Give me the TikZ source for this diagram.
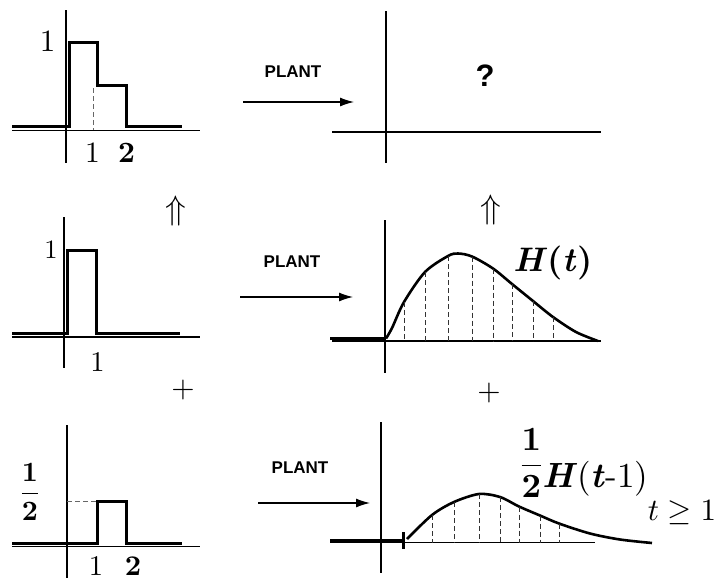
\documentclass[tikz,border=0pt]{standalone}
\usepackage{amsmath,amssymb}
\usepackage{graphicx}
\usepackage[no-math]{fontspec}
\newfontfamily\plantfont{Liberation Sans}
\usetikzlibrary{arrows.meta}
\newcommand{\magnify}[2]{\scalebox{#1}{\fontsize{10}{12}\selectfont #2}}
\newcommand{\bolditl}[1]{{\bfseries\itshape #1\/}}
\newcommand{\boldup}[1]{{\bfseries #1}}

\begin{document}
\begin{tikzpicture}[
    x=1pt, y=-1pt,
    axis/.style={line width=1.2pt},
    signal/.style={line width=3pt, line join=miter},
    guide/.style={line width=0.8pt, dash pattern=on 5pt off 3pt, black!60},
    arrow/.style={line width=1.2pt, -{Latex[length=14pt,width=9pt]}},
    plant/.style={inner sep=0pt, font=\plantfont\bfseries\fontsize{17}{20}\selectfont},
    num/.style={inner sep=0pt}
]
\useasboundingbox (0,0) rectangle (727,581);

% Axes
\draw[axis] (66,10) -- (66,163);
\draw[axis] (12,130.5) -- (200,130.5);
\draw[axis] (386,11) -- (386,163);
\draw[axis] (332,132) -- (601,132);
\draw[axis] (64,217) -- (64,368);
\draw[axis] (12,337) -- (200,337);
\draw[axis] (385,220) -- (385,373);
\draw[axis] (332,341) -- (601,341);
\draw[axis] (67,425) -- (67,578);
\draw[axis] (12,546.5) -- (200,546.5);
\draw[axis] (381,422) -- (381,573);
\draw[axis] (330,542.5) -- (595,542.5);

% Inputs
\draw[signal] (12,126.5) -- (69,126.5) -- (69,42) -- (97,42) -- (97,85) -- (126,85) -- (126,126.5) -- (182,126.5);
\draw[guide] (93,88) -- (93,130);
\draw[signal] (12,333.5) -- (67,333.5) -- (67,250) -- (96,250) -- (96,333.5) -- (180,333.5);
\draw[signal] (12,543) -- (97,543) -- (97,501) -- (126,501) -- (126,543) -- (182,543);
\draw[guide] (67,501) -- (97,501);

% Responses
\draw[signal] (330,338.5) -- (386,338.5);
\draw[line width=2.6pt] plot[smooth] coordinates {(386,338.5) (392,328) (404,302) (425,272) (448,256) (458,253.5) (472,256.5) (493,268.5) (512,284) (533,301) (553,317) (576,332) (598,341)};
\foreach \x/\y in {404/302, 425/272, 448/256, 472/256.5, 493/268.5, 512/284, 533/301, 553/317}
    \draw[guide, black!80] (\x,\y) -- (\x,341);

\draw[signal] (330,540) -- (403,540);
\draw[line width=3pt] (403,532) -- (403,549);
\draw[line width=2.6pt] plot[smooth] coordinates {(407,539) (432,515) (454,502) (479,494) (500,497) (519,506.5) (540,515.5) (559,523.5) (590,533.5) (620,539.5) (652,543)};
\foreach \x/\y in {432/515, 454/502, 479/494, 500/497, 519/506.5, 540/515.5, 559/523.5}
    \draw[guide, black!80] (\x,\y) -- (\x,542.5);

% Labels
\node[num] (unitA) at (47.5,41.5) {\magnify{3.1}{$1$}};
\node[num] (tickA1) at (92.5,152.5) {\magnify{2.95}{$1$}};
\node[num] (tickA2) at (126.7,152.5) {\magnify{2.95}{$\mathbf{2}$}};
\node[num] (unitB) at (51,250) {\magnify{2.65}{$1$}};
\node[num] (tickB1) at (97.5,362) {\magnify{2.85}{$1$}};
\node[num] (halfC) at (30,492) {\magnify{2.8}{$\displaystyle\frac{\mathbf{1}}{\mathbf{2}}$}};
\node[num] (tickC1) at (96,566) {\magnify{2.85}{$1$}};
\node[num] (tickC2) at (133,566) {\magnify{2.85}{$\mathbf{2}$}};
\node[inner sep=0pt, font=\plantfont\bfseries\fontsize{31}{31}\selectfont] (unknown) at (485,76) {?};
\node[num] (resp) at (553,263) {\magnify{3.4}{\bolditl{H}\boldup{(}\bolditl{t}\boldup{)}}};
\node[num] (halfD) at (531.5,463) {\magnify{3.4}{$\displaystyle\frac{\mathbf{1}}{\mathbf{2}}$}};
\node[num, anchor=base west] (respshift) at (542,487) {\magnify{3.5}{\bolditl{H}(\bolditl{t}-1)}};
\node[num] (cond) at (682,513) {\magnify{3.1}{$t \geq 1$}};

\node[num] (upA) at (176,211) {\magnify{3.4}{$\Uparrow$}};
\node[num] (upB) at (491,210) {\magnify{3.4}{$\Uparrow$}};
\node[num] (plusA) at (183,390) {\magnify{3.0}{$+$}};
\node[num] (plusB) at (489,393) {\magnify{3.0}{$+$}};

% Plant arrows
\node[plant] (plantA) at (293,72) {PLANT};
\node[plant] (plantB) at (292,262) {PLANT};
\node[plant] (plantC) at (300,468) {PLANT};
\coordinate (inA) at (243,102);
\coordinate (outA) at (354,102);
\coordinate (inB) at (240,297);
\coordinate (outB) at (353,297);
\coordinate (inC) at (258,503);
\coordinate (outC) at (370,503);
\draw[arrow] (inA) -- (outA);
\draw[arrow] (inB) -- (outB);
\draw[arrow] (inC) -- (outC);

\end{tikzpicture}
\end{document}
